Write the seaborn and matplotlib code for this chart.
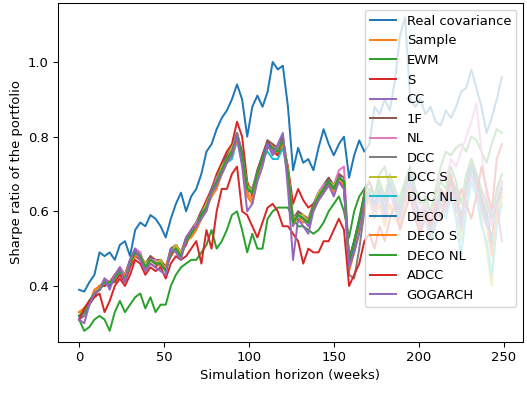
import matplotlib
matplotlib.use("Agg")
import matplotlib.pyplot as plt
import seaborn as sns
import numpy as np

weeks = list(range(0, 250, 3))

model_names = ["Real covariance", "Sample", "EWM", "S", "CC", "1F", "NL", "DCC",
               "DCC S", "DCC NL", "DECO", "DECO S", "DECO NL", "ADCC", "GOGARCH"]

real_cov = [0.39,0.385,0.41,0.43,0.49,0.48,0.49,0.47,0.51,0.52,
            0.48,0.55,0.57,0.56,0.59,0.58,0.56,0.53,0.58,0.62,
            0.65,0.60,0.64,0.66,0.70,0.76,0.78,0.82,0.85,0.87,
            0.90,0.94,0.90,0.80,0.88,0.91,0.88,0.92,1.00,0.98,
            0.99,0.88,0.71,0.77,0.73,0.74,0.71,0.77,0.82,0.78,
            0.75,0.78,0.80,0.69,0.75,0.79,0.76,0.78,0.88,0.86,
            0.90,0.87,0.95,1.07,1.12,0.90,0.88,0.90,0.86,0.88,
            0.84,0.83,0.87,0.85,0.88,0.92,0.93,0.98,0.93,0.88,
            0.81,0.85,0.90,0.96]

sample = [0.33,0.34,0.36,0.38,0.40,0.40,0.41,0.43,0.43,0.42,
          0.46,0.48,0.49,0.44,0.47,0.47,0.45,0.45,0.48,0.50,
          0.49,0.52,0.53,0.55,0.58,0.62,0.64,0.67,0.70,0.73,
          0.75,0.80,0.74,0.64,0.62,0.69,0.73,0.77,0.78,0.75,
          0.78,0.69,0.58,0.58,0.57,0.58,0.60,0.63,0.65,0.67,
          0.65,0.68,0.67,0.44,0.49,0.55,0.62,0.64,0.61,0.65,
          0.61,0.67,0.62,0.59,0.65,0.69,0.61,0.57,0.59,0.54,
          0.59,0.63,0.61,0.67,0.63,0.55,0.65,0.71,0.67,0.61,
          0.57,0.49,0.61,0.65]

ewm = [0.31,0.28,0.29,0.31,0.32,0.31,0.28,0.33,0.36,0.33,
       0.35,0.37,0.38,0.34,0.37,0.33,0.35,0.35,0.40,0.43,
       0.45,0.46,0.47,0.47,0.49,0.51,0.55,0.50,0.52,0.55,
       0.59,0.60,0.55,0.49,0.54,0.50,0.50,0.58,0.60,0.61,
       0.61,0.61,0.58,0.56,0.56,0.55,0.54,0.55,0.57,0.60,
       0.62,0.64,0.60,0.53,0.60,0.64,0.66,0.68,0.64,0.70,
       0.72,0.66,0.62,0.64,0.68,0.66,0.62,0.60,0.63,0.60,
       0.66,0.72,0.76,0.75,0.77,0.78,0.76,0.80,0.79,0.76,
       0.73,0.78,0.82,0.81]

s_model = [0.31,0.34,0.35,0.37,0.40,0.40,0.41,0.41,0.43,0.41,
           0.45,0.48,0.47,0.46,0.46,0.45,0.47,0.45,0.48,0.51,
           0.49,0.51,0.55,0.57,0.60,0.63,0.66,0.70,0.73,0.76,
           0.78,0.84,0.80,0.68,0.64,0.71,0.75,0.79,0.76,0.75,
           0.78,0.72,0.62,0.66,0.63,0.61,0.62,0.63,0.65,0.67,
           0.67,0.68,0.66,0.47,0.52,0.57,0.62,0.64,0.60,0.64,
           0.58,0.66,0.64,0.58,0.64,0.68,0.60,0.56,0.62,0.57,
           0.58,0.66,0.64,0.70,0.62,0.58,0.64,0.74,0.70,0.64,
           0.60,0.52,0.64,0.68]

cc = [0.31,0.32,0.35,0.39,0.39,0.42,0.41,0.42,0.45,0.43,
      0.47,0.49,0.47,0.45,0.48,0.46,0.47,0.44,0.50,0.50,
      0.48,0.53,0.54,0.57,0.59,0.61,0.66,0.68,0.71,0.75,
      0.76,0.80,0.74,0.65,0.66,0.70,0.75,0.78,0.76,0.77,
      0.80,0.70,0.56,0.60,0.58,0.56,0.61,0.65,0.67,0.69,
      0.66,0.70,0.67,0.46,0.51,0.56,0.64,0.66,0.63,0.67,
      0.59,0.69,0.64,0.61,0.67,0.71,0.63,0.59,0.61,0.56,
      0.61,0.65,0.63,0.69,0.65,0.57,0.67,0.73,0.69,0.63,
      0.59,0.51,0.63,0.67]

one_f = [0.32,0.33,0.36,0.38,0.40,0.41,0.41,0.43,0.44,0.43,
         0.47,0.50,0.48,0.46,0.48,0.47,0.47,0.45,0.50,0.51,
         0.49,0.53,0.55,0.57,0.60,0.62,0.66,0.69,0.72,0.75,
         0.77,0.81,0.76,0.67,0.66,0.71,0.75,0.79,0.78,0.77,
         0.80,0.71,0.58,0.60,0.59,0.58,0.62,0.65,0.67,0.69,
         0.67,0.70,0.69,0.47,0.52,0.58,0.65,0.68,0.64,0.68,
         0.62,0.70,0.64,0.61,0.67,0.71,0.63,0.60,0.62,0.57,
         0.62,0.66,0.63,0.69,0.66,0.58,0.67,0.74,0.70,0.63,
         0.60,0.52,0.64,0.68]

nl = [0.32,0.33,0.35,0.38,0.39,0.42,0.40,0.43,0.45,0.43,
      0.46,0.50,0.49,0.45,0.47,0.47,0.46,0.45,0.49,0.51,
      0.48,0.52,0.54,0.57,0.59,0.62,0.65,0.69,0.71,0.74,
      0.76,0.81,0.75,0.66,0.66,0.70,0.74,0.78,0.77,0.77,
      0.79,0.70,0.58,0.59,0.58,0.58,0.61,0.65,0.67,0.68,
      0.67,0.71,0.72,0.47,0.51,0.56,0.64,0.66,0.63,0.67,
      0.61,0.69,0.64,0.62,0.68,0.72,0.64,0.60,0.62,0.58,
      0.64,0.70,0.68,0.74,0.72,0.76,0.80,0.84,0.89,0.76,
      0.64,0.56,0.64,0.68]

dcc = [0.32,0.32,0.35,0.38,0.39,0.41,0.40,0.42,0.44,0.42,
       0.46,0.49,0.48,0.45,0.47,0.46,0.46,0.44,0.49,0.50,
       0.48,0.52,0.54,0.56,0.59,0.61,0.65,0.68,0.71,0.74,
       0.76,0.81,0.75,0.66,0.65,0.70,0.74,0.78,0.77,0.76,
       0.79,0.70,0.57,0.59,0.58,0.57,0.61,0.64,0.66,0.68,
       0.66,0.69,0.68,0.43,0.42,0.50,0.60,0.64,0.62,0.66,
       0.60,0.68,0.63,0.60,0.66,0.70,0.62,0.58,0.60,0.55,
       0.60,0.64,0.62,0.68,0.64,0.56,0.66,0.72,0.68,0.62,
       0.58,0.50,0.62,0.66]

dcc_s = [0.33,0.33,0.36,0.38,0.40,0.41,0.41,0.42,0.44,0.43,
         0.46,0.49,0.48,0.46,0.47,0.46,0.47,0.44,0.49,0.51,
         0.49,0.52,0.54,0.56,0.59,0.62,0.65,0.68,0.72,0.74,
         0.77,0.80,0.75,0.67,0.65,0.70,0.74,0.77,0.77,0.76,
         0.79,0.71,0.58,0.59,0.59,0.57,0.61,0.65,0.66,0.68,
         0.67,0.69,0.68,0.46,0.50,0.57,0.63,0.66,0.62,0.66,
         0.60,0.67,0.62,0.60,0.65,0.70,0.61,0.57,0.60,0.54,
         0.60,0.63,0.60,0.66,0.62,0.52,0.64,0.70,0.66,0.58,
         0.50,0.40,0.58,0.64]

dcc_nl = [0.32,0.33,0.35,0.38,0.39,0.41,0.40,0.42,0.44,0.42,
          0.46,0.49,0.48,0.45,0.47,0.46,0.46,0.44,0.49,0.50,
          0.48,0.52,0.54,0.56,0.59,0.61,0.64,0.67,0.70,0.73,
          0.74,0.79,0.73,0.66,0.65,0.70,0.74,0.76,0.74,0.74,
          0.77,0.70,0.57,0.59,0.58,0.57,0.61,0.64,0.66,0.68,
          0.66,0.69,0.68,0.46,0.50,0.56,0.63,0.65,0.62,0.66,
          0.60,0.66,0.62,0.58,0.62,0.66,0.58,0.54,0.58,0.52,
          0.56,0.62,0.58,0.64,0.58,0.48,0.60,0.68,0.64,0.56,
          0.52,0.43,0.56,0.62]

deco = [0.32,0.33,0.35,0.38,0.39,0.41,0.40,0.42,0.44,0.42,
        0.46,0.49,0.48,0.45,0.47,0.46,0.46,0.44,0.49,0.50,
        0.48,0.52,0.54,0.56,0.59,0.61,0.65,0.68,0.71,0.74,
        0.76,0.80,0.75,0.66,0.65,0.70,0.74,0.78,0.77,0.76,
        0.79,0.70,0.57,0.59,0.58,0.57,0.61,0.64,0.66,0.68,
        0.66,0.69,0.68,0.46,0.50,0.56,0.63,0.65,0.62,0.66,
        0.60,0.68,0.63,0.60,0.66,0.70,0.62,0.58,0.60,0.55,
        0.60,0.64,0.62,0.68,0.64,0.56,0.66,0.72,0.68,0.62,
        0.58,0.50,0.62,0.66]

deco_s = [0.33,0.34,0.35,0.39,0.40,0.41,0.41,0.42,0.44,0.43,
          0.46,0.48,0.48,0.45,0.47,0.46,0.46,0.45,0.49,0.50,
          0.48,0.52,0.54,0.56,0.58,0.61,0.64,0.66,0.70,0.73,
          0.75,0.79,0.74,0.65,0.63,0.69,0.73,0.77,0.77,0.76,
          0.78,0.70,0.57,0.58,0.58,0.57,0.61,0.64,0.66,0.67,
          0.66,0.69,0.67,0.45,0.49,0.55,0.61,0.63,0.58,0.62,
          0.56,0.62,0.58,0.56,0.62,0.66,0.58,0.55,0.58,0.53,
          0.58,0.62,0.60,0.66,0.62,0.55,0.64,0.70,0.66,0.60,
          0.56,0.48,0.60,0.64]

deco_nl = [0.32,0.33,0.36,0.38,0.39,0.41,0.41,0.42,0.44,0.42,
           0.46,0.49,0.48,0.45,0.47,0.46,0.46,0.44,0.49,0.50,
           0.48,0.52,0.54,0.56,0.59,0.61,0.65,0.68,0.71,0.74,
           0.76,0.80,0.75,0.66,0.65,0.70,0.74,0.77,0.77,0.76,
           0.79,0.70,0.57,0.59,0.58,0.57,0.61,0.64,0.66,0.68,
           0.66,0.69,0.68,0.47,0.52,0.58,0.64,0.66,0.64,0.68,
           0.64,0.70,0.66,0.62,0.68,0.72,0.66,0.62,0.64,0.60,
           0.64,0.68,0.66,0.72,0.68,0.62,0.70,0.74,0.70,0.66,
           0.62,0.58,0.66,0.70]

adcc = [0.31,0.34,0.36,0.37,0.38,0.33,0.36,0.40,0.42,0.40,
        0.43,0.47,0.46,0.43,0.45,0.44,0.45,0.42,0.46,0.48,
        0.47,0.48,0.50,0.52,0.46,0.55,0.50,0.60,0.66,0.66,
        0.70,0.72,0.60,0.59,0.56,0.53,0.57,0.61,0.62,0.60,
        0.56,0.56,0.54,0.52,0.46,0.50,0.49,0.49,0.52,0.52,
        0.55,0.58,0.55,0.40,0.43,0.46,0.52,0.54,0.50,0.56,
        0.52,0.58,0.62,0.55,0.60,0.64,0.58,0.54,0.60,0.56,
        0.62,0.58,0.64,0.70,0.60,0.66,0.62,0.58,0.64,0.72,
        0.66,0.60,0.74,0.78]

gogarch = [0.31,0.30,0.35,0.38,0.39,0.42,0.39,0.43,0.45,0.41,
           0.47,0.50,0.47,0.44,0.46,0.45,0.44,0.43,0.50,0.49,
           0.47,0.53,0.55,0.56,0.58,0.60,0.65,0.67,0.70,0.73,
           0.75,0.80,0.72,0.60,0.62,0.68,0.72,0.78,0.75,0.78,
           0.81,0.66,0.47,0.58,0.56,0.54,0.60,0.63,0.65,0.67,
           0.64,0.68,0.66,0.45,0.49,0.54,0.62,0.64,0.60,0.64,
           0.58,0.66,0.60,0.58,0.64,0.68,0.60,0.56,0.58,0.53,
           0.58,0.62,0.60,0.66,0.62,0.55,0.64,0.70,0.66,0.60,
           0.56,0.60,0.62,0.52]

series = [real_cov, sample, ewm, s_model, cc, one_f, nl, dcc,
          dcc_s, dcc_nl, deco, deco_s, deco_nl, adcc, gogarch]

colors = sns.color_palette("tab10", 10)

DPI = 94.6
fig = plt.figure(figsize=(527 / DPI, 399 / DPI), dpi=DPI)
ax = fig.add_axes([58/527, 1 - 342/399, (523 - 58)/527, (342 - 3)/399])

for i, (name, vals) in enumerate(zip(model_names, series)):
    sns.lineplot(x=weeks[:len(vals)], y=vals, ax=ax, color=colors[i % 10],
                 label=name, linewidth=1.5)

ax.set_xlim(-12.45, 261.45)
ax.set_ylim(0.25, 1.158)
ax.set_xticks([0, 50, 100, 150, 200, 250])
ax.set_yticks([0.4, 0.6, 0.8, 1.0])
ax.set_xlabel("Simulation horizon (weeks)")
ax.set_ylabel("Sharpe ratio of the portfolio")
ax.legend(loc="upper right")

fig.savefig("out.png", dpi=DPI)
